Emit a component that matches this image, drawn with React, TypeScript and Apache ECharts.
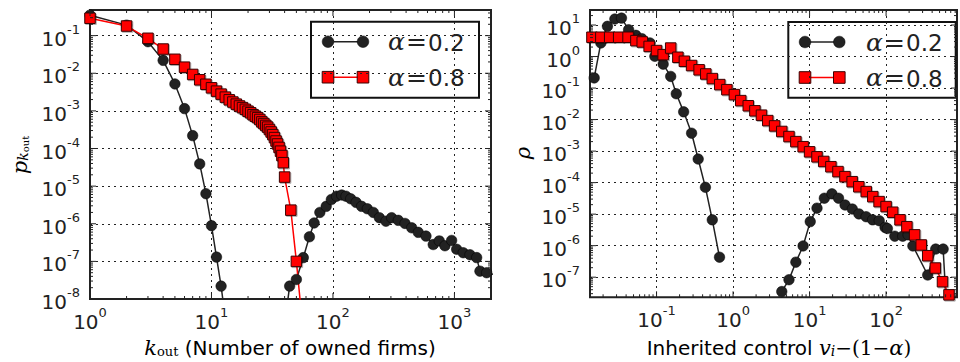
import React, { useEffect, useRef } from "react";
import * as echarts from "echarts";

// ---------- Left panel: out-degree distribution ----------
const kOutA02 = [1, 2, 3, 4, 5, 6, 7, 8, 9, 10, 11, 12, 13, 42, 44, 50, 57, 64, 70, 78, 88, 97, 107, 118, 128, 140, 155, 172, 192, 215, 241, 273, 304, 345, 392, 445, 504, 583, 669, 750, 835, 948, 1043, 1181, 1342, 1524, 1622, 1842, 2100];
const pA02 = [0.35, 0.19, 0.069, 0.022, 0.0052, 0.00115, 2.2e-4, 3.9e-5, 6.3e-6, 8.9e-7, 1.3e-7, 2.2e-8, 3e-9, 7e-9, 2.2e-8, 3.3e-8, 1.26e-7, 4.5e-7, 1.05e-6, 2.0e-6, 2.9e-6, 4.4e-6, 5.4e-6, 5.8e-6, 5.4e-6, 4.6e-6, 3.7e-6, 2.9e-6, 2.5e-6, 2.0e-6, 1.45e-6, 1.17e-6, 1.45e-6, 1.23e-6, 1.02e-6, 7.8e-7, 5.9e-7, 4.7e-7, 2.8e-7, 3.5e-7, 2.6e-7, 3.6e-7, 2.1e-7, 1.7e-7, 1.5e-7, 1.26e-7, 5.5e-8, 5.0e-8, 4.5e-8];

const kOutA08 = [1, 2, 3, 4, 5, 6, 7, 8, 9, 10, 11, 12, 13, 14, 15, 16, 17, 18, 19, 20, 21, 22, 23, 24, 25, 26, 27, 28, 29, 30, 31, 32, 33, 34, 35, 36, 37, 38, 39, 40, 45, 50, 55];
const pA08 = [0.29, 0.18, 0.085, 0.044, 0.0235, 0.0145, 0.0093, 0.0067, 0.0051, 0.0041, 0.00335, 0.00279, 0.00232, 0.00197, 0.00172, 0.00151, 0.00135, 0.00122, 0.0011, 0.00098, 0.00089, 0.00079, 0.00072, 0.00066, 0.00059, 0.00051, 0.00046, 0.00041, 0.00037, 0.00032, 0.000275, 0.000234, 0.000195, 0.000158, 0.000132, 0.000107, 8.5e-5, 6.5e-5, 4.2e-5, 1.74e-5, 2.3e-6, 1.0e-7, 4e-9];

// ---------- Right panel: inherited control ----------
const vA02a = [0.0153, 0.0187, 0.0228, 0.0285, 0.0348, 0.0431, 0.0537, 0.064, 0.082, 0.095, 0.122, 0.153, 0.181, 0.226, 0.287, 0.35, 0.435, 0.535, 0.665];
const rhoA02a = [0.21, 2.7, 9.1, 15.5, 16.6, 7.1, 4.7, 3.7, 2.7, 1.02, 0.575, 0.234, 0.066, 0.0176, 0.0037, 5.6e-4, 7.1e-5, 6.6e-6, 4.3e-7];
const vA02b = [4.33, 5.38, 6.62, 8.23, 10.2, 12.5, 15.6, 19.6, 23.9, 29.1, 36.2, 44.1, 54.8, 66.7, 81.3, 97, 104, 130, 165, 194, 224, 350, 445, 557, 650];
const rhoA02b = [3.5e-8, 8.3e-8, 3.0e-7, 9.8e-7, 5.8e-6, 1.55e-5, 3.2e-5, 4.4e-5, 3.2e-5, 1.95e-5, 1.45e-5, 1.02e-5, 8.3e-6, 6.6e-6, 6.2e-6, 3.8e-6, 3.5e-6, 2.0e-6, 2.0e-6, 2.2e-6, 9.8e-7, 1.17e-7, 7.8e-7, 7.8e-7, 1e-9];

const vA08 = [0.0143, 0.0187, 0.0244, 0.032, 0.0424, 0.0537, 0.065, 0.08, 0.1, 0.122, 0.153, 0.19, 0.231, 0.287, 0.36, 0.44, 0.535, 0.67, 0.83, 1.04, 1.26, 1.58, 1.93, 2.35, 2.84, 3.49, 4.33, 5.38, 6.62, 8.24, 10, 12.5, 15.3, 19, 23.5, 29, 36, 44, 55, 67, 81, 100, 122, 152, 187, 236, 288, 350, 440, 546, 664, 820];
const rhoA08 = [4.1, 4.1, 4.1, 4.1, 4.1, 3.2, 2.9, 2.1, 1.55, 1.15, 1.86, 0.95, 0.71, 0.52, 0.38, 0.28, 0.2, 0.129, 0.089, 0.062, 0.04, 0.0275, 0.019, 0.0138, 0.0093, 0.0063, 0.0042, 0.0029, 0.002, 0.00138, 9.5e-4, 6.6e-4, 4.7e-4, 3.2e-4, 2.24e-4, 1.55e-4, 1.07e-4, 7.4e-5, 5.2e-5, 3.6e-5, 2.5e-5, 1.74e-5, 1.15e-5, 6.6e-6, 4.0e-6, 2.2e-6, 1.05e-6, 4.8e-7, 1.95e-7, 7.2e-8, 2.75e-8, 5e-9];

const alphaLabels = ["0.2", "0.8"];

// axis ranges
const leftX = [1, 2000];
const leftY = [1e-8, 0.48];
const rightX = [0.01349, 845];
const rightY = [2.3e-8, 30];

const INK = "#222";

const zip = (xs: number[], ys: number[]) => xs.map((x, i) => [x, ys[i]]);

function logTicks(min: number, max: number) {
  const major: number[] = [];
  const minor: number[] = [];
  for (let e = Math.floor(Math.log10(min)); e <= Math.ceil(Math.log10(max)); e++) {
    for (let m = 1; m < 10; m++) {
      const v = m * Math.pow(10, e);
      if (v < min * 0.9999 || v > max * 1.0001) continue;
      (m === 1 ? major : minor).push(v);
    }
  }
  return { major, minor };
}

function tickSeries(idx: number, xr: number[], yr: number[]) {
  const xt = logTicks(xr[0], xr[1]);
  const yt = logTicks(yr[0], yr[1]);
  const data: number[][] = [];
  xt.major.forEach((v) => data.push([v, yr[0], 0, 6]));
  xt.minor.forEach((v) => data.push([v, yr[0], 0, 3]));
  yt.major.forEach((v) => data.push([xr[0], v, 1, 6]));
  yt.minor.forEach((v) => data.push([xr[0], v, 1, 3]));
  return {
    type: "custom",
    xAxisIndex: idx,
    yAxisIndex: idx,
    silent: true,
    z: 6,
    data,
    renderItem(params: any, api: any) {
      const cs = params.coordSys;
      const kind = api.value(2);
      const len = api.value(3);
      const p = api.coord([api.value(0), api.value(1)]);
      const st = { stroke: INK, lineWidth: 1 };
      if (kind === 0) {
        const x = p[0];
        return {
          type: "group",
          children: [
            { type: "line", shape: { x1: x, y1: cs.y + cs.height, x2: x, y2: cs.y + cs.height - len }, style: st },
            { type: "line", shape: { x1: x, y1: cs.y, x2: x, y2: cs.y + len }, style: st },
          ],
        };
      }
      const y = p[1];
      return {
        type: "group",
        children: [
          { type: "line", shape: { x1: cs.x, y1: y, x2: cs.x + len, y2: y }, style: st },
          { type: "line", shape: { x1: cs.x + cs.width, y1: y, x2: cs.x + cs.width - len, y2: y }, style: st },
        ],
      };
    },
  };
}

const powLabel = (val: number) => {
  const l = Math.log10(val);
  const e = Math.round(l);
  if (Math.abs(l - e) > 1e-6) return "";
  return `{b|10}{s|${e}}`;
};

const labelRich = {
  b: { fontFamily: "DejaVu Sans", fontSize: 20, color: INK, lineHeight: 26, verticalAlign: "bottom" },
  s: { fontFamily: "DejaVu Sans", fontSize: 13, color: INK, lineHeight: 13, padding: [0, 0, 13, 0], verticalAlign: "bottom" },
};

function logAxis(idx: number, r: number[], isX: boolean) {
  return {
    type: "log",
    logBase: 10,
    gridIndex: idx,
    min: r[0],
    max: r[1],
    splitNumber: 10,
    axisLine: { show: false },
    axisTick: { show: false },
    minorTick: { show: false },
    splitLine: { show: true, lineStyle: { color: "#222", width: 1, type: [2, 4] } },
    axisLabel: {
      interval: 0,
      margin: isX ? 7 : 10,
      fontSize: 20,
      fontFamily: "DejaVu Sans",
      formatter: powLabel,
      rich: labelRich,
      hideOverlap: false,
    },
  };
}

const blackLine = {
  type: "line",
  symbol: "circle",
  symbolSize: 10.5,
  showSymbol: true,
  clip: true,
  silent: true,
  lineStyle: { color: INK, width: 1.5 },
  itemStyle: { color: INK, borderColor: "#000", borderWidth: 0.5 },
  emphasis: { disabled: true },
};

const redLine = {
  type: "line",
  symbol: "rect",
  symbolSize: 10.5,
  showSymbol: true,
  clip: true,
  silent: true,
  lineStyle: { color: "#ff0000", width: 1.5 },
  itemStyle: {
    color: "#ff0000",
    borderColor: "#3a0000",
    borderWidth: 1,
    shadowColor: "rgba(0,0,0,0.3)",
    shadowOffsetX: 1,
    shadowOffsetY: 1,
    shadowBlur: 1,
  },
  emphasis: { disabled: true },
};

function legendText(x: number, y: number, val: string) {
  return [
    { type: "text", x, y, style: { text: "α", fontFamily: "DejaVu Serif", fontStyle: "italic", fontSize: 25, fill: INK, align: "left", verticalAlign: "middle" } },
    { type: "text", x: x + 18, y, style: { text: "=", fontFamily: "DejaVu Serif", fontSize: 25, fill: INK, align: "left", verticalAlign: "middle" } },
    { type: "text", x: x + 40, y: y + 1, style: { text: val, fontFamily: "DejaVu Sans", fontSize: 23, fill: INK, align: "left", verticalAlign: "middle" } },
  ];
}

function legend(x: number, y: number, w: number, h: number, m1: number, m2: number, tx: number) {
  const y1 = y + 20;
  const y2 = y + 55.5;
  return {
    type: "group",
    z: 100,
    children: [
      { type: "rect", shape: { x, y, width: w, height: h }, style: { fill: "#fff", stroke: "#111", lineWidth: 2 } },
      { type: "line", shape: { x1: m1, y1, x2: m2, y2: y1 }, style: { stroke: INK, lineWidth: 1.5 } },
      { type: "circle", shape: { cx: m1, cy: y1, r: 5.8 }, style: { fill: INK, stroke: "#000", lineWidth: 0.5 } },
      { type: "circle", shape: { cx: m2, cy: y1, r: 5.8 }, style: { fill: INK, stroke: "#000", lineWidth: 0.5 } },
      { type: "line", shape: { x1: m1, y1: y2, x2: m2, y2 }, style: { stroke: "#ff0000", lineWidth: 1.5 } },
      { type: "rect", shape: { x: m1 - 5.8, y: y2 - 5.8, width: 11.6, height: 11.6 }, style: { fill: "#ff0000", stroke: "#3a0000", lineWidth: 1 } },
      { type: "rect", shape: { x: m2 - 5.8, y: y2 - 5.8, width: 11.6, height: 11.6 }, style: { fill: "#ff0000", stroke: "#3a0000", lineWidth: 1 } },
      ...legendText(tx, y1, alphaLabels[0]),
      ...legendText(tx, y2, alphaLabels[1]),
    ],
  };
}

const titleRich = {
  t: { fontFamily: "DejaVu Sans", fontSize: 20, color: INK, lineHeight: 22, verticalAlign: "bottom" },
  mi: { fontFamily: "DejaVu Serif", fontStyle: "italic", fontSize: 21, color: INK, lineHeight: 22, verticalAlign: "bottom" },
  m: { fontFamily: "DejaVu Serif", fontSize: 20, color: INK, lineHeight: 22, verticalAlign: "bottom" },
  sub: { fontFamily: "DejaVu Serif", fontSize: 13, color: INK, lineHeight: 13, padding: [9, 0, 0, 0], verticalAlign: "bottom" },
  subi: { fontFamily: "DejaVu Serif", fontStyle: "italic", fontSize: 14, color: INK, lineHeight: 13, padding: [9, 0, 0, 0], verticalAlign: "bottom" },
  subsub: { fontFamily: "DejaVu Serif", fontSize: 10, color: INK, lineHeight: 10, padding: [14, 0, 0, 0], verticalAlign: "bottom" },
};

const option = {
  animation: false,
  backgroundColor: "#fff",
  grid: [
    { left: 90, top: 10, width: 401, height: 289, show: true, borderColor: INK, borderWidth: 2, backgroundColor: "transparent" },
    { left: 590, top: 10, width: 373, height: 287.3, show: true, borderColor: INK, borderWidth: 2, backgroundColor: "transparent" },
  ],
  xAxis: [logAxis(0, leftX, true), logAxis(1, rightX, true)],
  yAxis: [logAxis(0, leftY, false), logAxis(1, rightY, false)],
  series: [
    { ...blackLine, name: "α=0.2", xAxisIndex: 0, yAxisIndex: 0, data: zip(kOutA02, pA02) },
    { ...redLine, name: "α=0.8", xAxisIndex: 0, yAxisIndex: 0, data: zip(kOutA08, pA08) },
    { ...blackLine, name: "α=0.2 a", xAxisIndex: 1, yAxisIndex: 1, data: zip(vA02a, rhoA02a) },
    { ...blackLine, name: "α=0.2 b", xAxisIndex: 1, yAxisIndex: 1, data: zip(vA02b, rhoA02b) },
    { ...redLine, name: "α=0.8 r", xAxisIndex: 1, yAxisIndex: 1, data: zip(vA08, rhoA08) },
    tickSeries(0, leftX, leftY),
    tickSeries(1, rightX, rightY),
  ],
  graphic: [
    legend(311, 21.7, 168, 76, 328, 363, 388),
    legend(788.3, 22, 167.4, 75.7, 805, 839.3, 866),
    {
      type: "text",
      x: 290,
      y: 347,
      style: { text: "{mi|k}{sub|out}{t| (Number of owned firms)}", rich: titleRich, align: "center", verticalAlign: "middle" },
    },
    {
      type: "text",
      x: 779,
      y: 347,
      style: { text: "{t|Inherited control }{mi|v}{subi|i}{m|−(1−}{mi|α}{m|)}", rich: titleRich, align: "center", verticalAlign: "middle" },
    },
    {
      type: "text",
      x: 19,
      y: 155,
      rotation: Math.PI / 2,
      style: { text: "{mi|p}{subi|k}{subsub|out}", rich: titleRich, align: "center", verticalAlign: "middle" },
    },
    {
      type: "text",
      x: 522,
      y: 153,
      rotation: Math.PI / 2,
      style: { text: "{mi|ρ}", rich: titleRich, align: "center", verticalAlign: "middle" },
    },
  ],
};

export default function App() {
  const ref = useRef<HTMLDivElement>(null);
  useEffect(() => {
    const chart = echarts.init(ref.current as HTMLDivElement, null, { renderer: "svg" });
    chart.setOption(option as any);
    return () => chart.dispose();
  }, []);
  return (
    <div
      ref={ref}
      style={{ position: "absolute", left: 0, top: 0, width: 960, height: 362, background: "#fff", overflow: "hidden" }}
    />
  );
}
